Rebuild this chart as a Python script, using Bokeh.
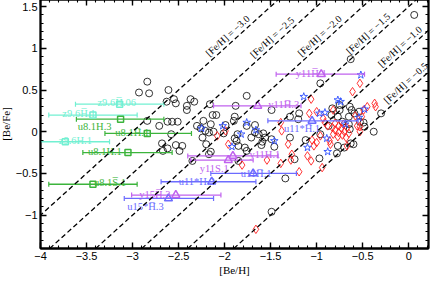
import math
import numpy as np
from bokeh.plotting import figure
from bokeh.models import LinearAxis, Range1d, FixedTicker, ColumnDataSource, Slope
from bokeh.core.properties import value
from bokeh.embed import file_html
from bokeh.resources import INLINE

# ---------------- data ----------------
x_ticks = [-4, -3.5, -3, -2.5, -2, -1.5, -1, -0.5, 0]
x_tick_labels = ["\u22124", "\u22123.5", "\u22123", "\u22122.5", "\u22122", "\u22121.5", "\u22121", "\u22120.5", "0"]
y_ticks = [-1, -0.5, 0, 0.5, 1, 1.5]
y_tick_labels = ["\u22121", "\u22120.5", "0", "0.5", "1", "1.5"]

# literature stars (black open circles)
circle_x = [-2.93, -2.84, -2.82, -2.84, -2.61, -2.63, -2.55, -2.53, -2.37, -2.33, -2.41, -2.41, -2.16,
            -1.76, -1.88, -1.49, -2.62, -2.57, -2.51, -2.71, -2.58, -2.13, -2.09, -2.15, -2.23, -2.30,
            -2.26, -2.21, -2.17, -2.24, -2.12, -1.89, -1.90, -2.01, -1.99, -1.86, -1.67, -1.63, -1.58,
            -1.56, -1.59, -1.60, -2.68, -2.53, -2.46, -2.49, -2.67, -2.62, -2.20, -2.15, -2.17, -1.76,
            -2.35, -1.89, -1.87, -1.85, -1.71, -1.78, -1.85, -1.49, 0.06, -0.63, -0.30, -0.96, -0.75,
            -0.75, -0.64, -0.62, -1.19, -1.20, -0.84, -0.83, -0.87, -0.72, -0.53, -0.59, -0.54, -0.77,
            -0.49, -0.48, -0.38, -1.29, -1.12, -0.77, -0.70, -0.63, -0.78, -1.24, -0.97, -1.34, -0.60,
            -1.29, -1.49, -1.46, -0.96, -1.76, -1.67, -0.65, -0.65, -0.64]
circle_y = [0.47, 0.60, 0.46, 0.13, 0.50, 0.36, 0.39, 0.34, 0.39, 0.36, 0.31, 0.26, 0.33,
            0.43, 0.31, 0.26, 0.12, 0.12, 0.12, 0.07, -0.03, 0.20, 0.20, 0.09, 0.13, 0.07,
            0.04, 0.01, -0.01, -0.07, 0.00, 0.18, 0.13, -0.02, 0.08, -0.03, 0.08, -0.03, -0.02,
            -0.07, -0.12, -0.16, -0.14, -0.16, -0.17, -0.23, -0.23, -0.20, -0.15, -0.24, -0.27, -0.23,
            -0.35, -0.08, -0.11, -0.17, -0.07, -0.19, -0.35, -0.96, 1.40, 0.87, 0.22, 0.58, 0.32,
            0.26, 0.30, 0.26, 0.22, 0.15, 0.20, 0.28, 0.07, 0.12, 0.12, 0.22, 0.24, 0.18,
            0.11, 0.06, 0.00, -0.07, -0.10, -0.17, -0.19, -0.14, -0.26, -0.33, -0.32, -0.56, -0.15,
            0.18, -0.09, -0.18, -0.03, 0.07, -0.01, 0.18, 0.09, 0.03]

# red open diamonds
diamond_x = [-0.53, -0.61, -1.06, -0.37, -0.36, -0.82, -0.49, -0.93, -1.08, -0.56, -0.53, -0.76, -0.53,
             -0.96, -1.05, -1.03, -0.86, -0.85, -0.67, -1.27, -1.28, -1.10, -1.06, -0.94, -1.19, -1.31,
             -1.99, -2.08, -1.96, -1.39, -1.38, -1.54, -1.39, -1.81, -1.66, -0.83, -0.80, -0.76, -0.73,
             -0.70, -0.67, -0.82, -0.77, -0.72, -0.68, -0.65, -0.80, -0.71, -0.45, -0.58, -0.51, -0.91,
             -0.88, -1.00, -1.00]
diamond_y = [0.58, 0.48, 0.39, 0.34, 0.30, 0.26, 0.26, 0.16, 0.22, 0.07, 0.06, 0.07, 0.00,
             -0.05, -0.10, -0.17, -0.11, -0.15, -0.17, -0.27, -0.34, -0.29, -0.35, -0.43, -0.48, -0.15,
             0.01, -0.05, -0.15, 0.11, 0.01, -0.34, -0.38, -0.40, -1.17, 0.05, 0.02, -0.01, 0.04,
             0.00, 0.05, -0.03, -0.06, -0.04, -0.07, -0.02, 0.10, 0.09, 0.30, 0.19, 0.18, 0.11,
             0.07, 0.24, -0.13]

# blue open stars
star_x = [-0.52, -1.14, -0.77, -0.74, -0.97, -0.91, -0.48, -0.54, -0.69, -1.10, -0.88, -0.89,
          -2.25, -2.02, -1.76, -1.82, -1.66, -1.46, -1.92]
star_y = [0.68, 0.42, 0.38, 0.36, 0.22, 0.23, 0.27, 0.17, 0.09, -0.19, -0.24, -0.08,
          0.04, 0.07, 0.11, -0.03, 0.02, -0.11, -0.18]

# model predictions with ranges
lab_names = ["z9.6H\u0305.06", "z9.6H\u0305.1", "z9.6H.1", "u8.1H.3", "u8.1H\u0305.1", "u8.1H.1",
             "u8.1S\u0305.1", "y11H\u0305.1", "y11H\u0305.3", "y11H.1", "y11S.1", "y15H\u0305.3",
             "u11*H\u0305.1", "u11H\u0305.1", "u11*H.3", "u15*H\u0305.3"]
lab_group = ["z", "z", "z", "u8", "u8", "u8", "u8", "y", "y", "y", "y", "y", "u11", "u11", "u11", "u11"]
lab_x = [-3.14, -3.43, -3.73, -3.13, -2.84, -3.05, -3.43, -0.95, -1.64, -1.91, -1.96, -2.53,
         -1.05, -1.69, -2.14, -2.61]
lab_y = [0.33, 0.20, -0.12, 0.15, -0.02, -0.25, -0.63, 0.69, 0.31, -0.29, -0.34, -0.76,
         0.13, -0.50, -0.60, -0.80]
lab_lo = [-3.62, -3.91, -4.20, -3.61, -3.30, -3.54, -3.91, -1.44, -2.12, -2.40, -2.37, -3.01,
          -1.53, -2.15, -2.69, -3.09]
lab_hi = [-2.66, -2.95, -3.25, -2.66, -2.36, -2.57, -2.95, -0.48, -1.17, -1.42, -1.69, -2.04,
          -0.55, -1.22, -1.66, -2.12]

fe_values = [-3.0, -2.5, -2.0, -1.5, -1.0, -0.5]
fe_labels = ["[Fe/H] = \u22123.0", "[Fe/H] = \u22122.5", "[Fe/H] = \u22122.0",
             "[Fe/H] = \u22121.5", "[Fe/H] = \u22121.0", "[Fe/H] = \u22120.5"]

# ---------------- styling ----------------
group_color = {"z": "#72f0d2", "u8": "#3cb43c", "y": "#c062ee", "u11": "#6c6cff"}
group_marker = {"z": "square", "u8": "square", "y": "triangle", "u11": "triangle"}
group_size = {"z": 6, "u8": 6, "y": 8, "u11": 8}
# label placement (pixels relative to marker) and side
label_dx = [-3, -14, 10, -26, -15, -23, 17, -10, 26, 32, -14, -21, -10, 3, -15, -23]
label_dy = [-2, -2, -1, 2, -1, -1, -2, -1, -1, -1, 3, -1, 2, 0, 0, 3]
label_below = [False, False, False, True, False, False, False, False, False, False, True, False,
               True, False, False, True]
fe_label_x = [-1.917, -1.433, -0.917, -0.390, -0.046, 0.018]

SERIF = "Liberation Serif"
SANS = "Liberation Sans"

X0, X1 = -4.0, 0.215
Y0, Y1 = -1.4, 1.585
W, H = 436, 282
ML, MR, MT, MB = 40, 4, 3, 25

p = figure(width=W, height=H, x_range=Range1d(X0, X1), y_range=Range1d(Y0, Y1),
           output_backend="svg", toolbar_location=None,
           min_border_left=ML, min_border_right=MR, min_border_top=MT, min_border_bottom=MB,
           margin=(-4, -4, -4, -4))
p.grid.visible = False
p.outline_line_color = "black"
p.outline_line_width = 1.8
p.background_fill_color = "white"
p.border_fill_color = "white"

x_minor = [round(v, 2) for v in np.arange(-4.0, 0.2001, 0.1)]
y_minor = [round(v, 2) for v in np.arange(-1.4, 1.6001, 0.1)]


def style_axis(ax, ticks, minor, labels, show):
    ax.ticker = FixedTicker(ticks=ticks, minor_ticks=minor)
    ax.axis_line_color = "black"
    ax.axis_line_width = 1.8
    ax.major_tick_in = 6
    ax.major_tick_out = 0
    ax.minor_tick_in = 3
    ax.minor_tick_out = 0
    ax.major_tick_line_width = 1.4
    ax.minor_tick_line_width = 1.1
    ax.major_tick_line_color = "black"
    ax.minor_tick_line_color = "black"
    ax.major_label_text_font = SANS
    ax.major_label_text_font_size = "11px"
    ax.major_label_text_color = "black"
    if show:
        ax.major_label_overrides = {float(t): l for t, l in zip(ticks, labels)}
        ax.major_label_standoff = 3
    else:
        ax.major_label_overrides = {float(t): "" for t in ticks}
        ax.major_label_standoff = 0


style_axis(p.xaxis[0], x_ticks, x_minor, x_tick_labels, True)
style_axis(p.yaxis[0], y_ticks, y_minor, y_tick_labels, True)
p.xaxis[0].axis_label = "[Be/H]"
p.yaxis[0].axis_label = "[Be/Fe]"
for ax in (p.xaxis[0], p.yaxis[0]):
    ax.axis_label_text_font = SERIF
    ax.axis_label_text_font_size = "11px"
    ax.axis_label_text_font_style = "normal"
    ax.axis_label_text_color = "black"
    ax.axis_label_standoff = 1

top = LinearAxis()
style_axis(top, x_ticks, x_minor, x_tick_labels, False)
p.add_layout(top, "above")
right = LinearAxis()
style_axis(right, y_ticks, y_minor, y_tick_labels, False)
p.add_layout(right, "right")

# iso-metallicity lines
for f in fe_values:
    p.add_layout(Slope(gradient=1, y_intercept=-f, line_color="black", line_width=1.3,
                       line_dash="5 3"))

px_per_x = (W - ML - MR) / (X1 - X0)
px_per_y = (H - MT - MB) / (Y1 - Y0)
ang = math.atan2(px_per_y, px_per_x)
p.text(x=fe_label_x, y=[x - f for x, f in zip(fe_label_x, fe_values)], text=fe_labels,
       angle=ang, text_font=value(SERIF), text_font_size="10px", text_align="center",
       text_baseline="bottom", text_color="black", x_offset=-1, y_offset=-1.5)

# observed stars
p.scatter(circle_x, circle_y, marker="circle", size=7, fill_color=None, line_color="black",
          line_width=0.8)
p.scatter(diamond_x, diamond_y, marker="diamond", size=8.5, fill_color=None, line_color="#ff2020",
          line_width=0.9)
p.scatter(star_x, star_y, marker="star", size=8, fill_color=None, line_color="#3050ff",
          line_width=0.9)

# model ranges
cols = [group_color[g] for g in lab_group]
marks = [group_marker[g] for g in lab_group]
sizes = [group_size[g] for g in lab_group]
src = ColumnDataSource(dict(x=lab_x, y=lab_y, lo=lab_lo, hi=lab_hi, c=cols, m=marks, s=sizes,
                            name=lab_names, dx=label_dx, dy=label_dy))
p.segment(x0="lo", y0="y", x1="hi", y1="y", line_color="c", line_width=1.3, source=src)
p.scatter(x="lo", y="y", marker="dash", angle=math.pi / 2, size=5, line_color="c",
          line_width=1.2, source=src)
p.scatter(x="hi", y="y", marker="dash", angle=math.pi / 2, size=5, line_color="c",
          line_width=1.2, source=src)
p.scatter(x="x", y="y", marker="m", size="s", fill_color=None, line_color="c", line_width=1.5,
          source=src)

above_idx = [i for i, b in enumerate(label_below) if not b]
below_idx = [i for i, b in enumerate(label_below) if b]
for idx, base in ((above_idx, "alphabetic"), (below_idx, "top")):
    s = ColumnDataSource(dict(x=[lab_x[i] for i in idx], y=[lab_y[i] for i in idx],
                              t=[lab_names[i] for i in idx], c=[cols[i] for i in idx],
                              dx=[label_dx[i] for i in idx], dy=[label_dy[i] for i in idx]))
    p.text(x="x", y="y", text="t", text_color="c", x_offset="dx", y_offset="dy",
           text_font=value(SERIF), text_font_size="10.5px", text_align="center",
           text_baseline=base, source=s)

open("out.html", "w").write(file_html(p, INLINE))
